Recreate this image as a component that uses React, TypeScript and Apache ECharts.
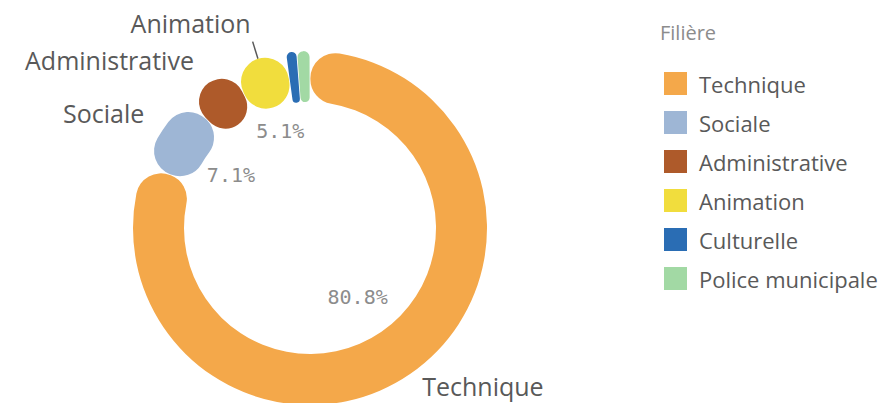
import React, { useEffect, useRef } from "react";
import * as echarts from "echarts";

const categories = ["Technique", "Sociale", "Administrative", "Animation", "Culturelle", "Police municipale"];
const values = [80.8, 7.1, 4.8, 5.1, 1.0, 1.2];
const colors = ["#F4A84A", "#9EB6D5", "#AE5A2A", "#F1DD3D", "#2A6DB4", "#A2D9A4"];
const showOuterLabel = [true, true, true, true, false, false];
const legendTitle = "Filière";

// label placement styling (not data)
const outerLineLen = [12, 16, 17, 18, 10, 10];
const outerShift = [2, -8, -9, -19, 0, 0];
const outerDistance = [5, 5, 5, 2, 5, 5];

export default function App() {
  const ref = useRef<HTMLDivElement>(null);
  useEffect(() => {
    document.body.style.margin = "0";
    const chart = echarts.init(ref.current!, null, { renderer: "svg" });
    const rich: Record<string, any> = {};
    outerShift.forEach((s, i) => {
      const h = Math.max(1, Math.abs(s) * 2);
      rich["g" + i] = { height: h, lineHeight: h, fontSize: 1 };
    });
    const ringData = categories.map((name, i) => ({
      name,
      value: values[i],
      itemStyle: { color: colors[i] },
      label: {
        show: showOuterLabel[i],
        distanceToLabelLine: outerDistance[i],
      },
      labelLine: {
        show: name === "Animation",
        length: outerLineLen[i],
        length2: 0,
      },
    }));
    const pctSeries = (radius: number, shown: string[]) => ({
      type: "pie",
      center: [310, 228],
      radius: [0, radius],
      startAngle: 90,
      clockwise: true,
      silent: true,
      percentPrecision: 1,
      avoidLabelOverlap: false,
      labelLayout: { hideOverlap: false },
      itemStyle: { color: "rgba(0,0,0,0)" },
      label: {
        position: "inside",
        formatter: "{d}%",
        fontFamily: "DejaVu Sans Mono",
        fontSize: 20,
        color: "#8c8c8c",
      },
      labelLine: { show: false },
      emphasis: { disabled: true },
      data: categories.map((name, i) => ({
        name,
        value: values[i],
        label: { show: shown.includes(name) },
      })),
    });
    chart.setOption({
      animation: false,
      color: colors,
      title: {
        text: legendTitle,
        left: 655,
        top: 17,
        textStyle: { fontFamily: "Open Sans", fontSize: 20, fontWeight: "normal", color: "#8c8c8c" },
      },
      legend: {
        orient: "vertical",
        left: 659,
        top: 67,
        itemWidth: 23,
        itemHeight: 23,
        itemGap: 16,
        icon: "rect",
        data: categories,
        selectedMode: false,
        textStyle: {
          fontFamily: "Open Sans",
          fontSize: 22,
          lineHeight: 23,
          color: "#595959",
          padding: [0, 0, 0, 7],
        },
      },
      series: [
        {
          type: "pie",
          center: [310, 228],
          radius: [126, 177],
          startAngle: 90,
          clockwise: true,
          padAngle: 0.3,
          avoidLabelOverlap: false,
          labelLayout: { hideOverlap: false },
          itemStyle: { borderRadius: 25 },
          label: {
            position: "outside",
            fontFamily: "Open Sans",
            fontSize: 25,
            color: "#595959",
            formatter: (p: any) => {
              const s = outerShift[p.dataIndex];
              if (s > 0) return `{g${p.dataIndex}|}\n${p.name}`;
              if (s < 0) return `${p.name}\n{g${p.dataIndex}|}`;
              return p.name;
            },
            rich,
          },
          labelLine: { lineStyle: { color: "#595959", width: 1.5 } },
          emphasis: { disabled: true },
          data: ringData,
        },
        pctSeries(162, ["Technique"]),
        pctSeries(184, ["Sociale"]),
        pctSeries(196, ["Animation"]),
      ],
    });
    return () => chart.dispose();
  }, []);
  return <div ref={ref} style={{ width: 892, height: 403 }} />;
}
